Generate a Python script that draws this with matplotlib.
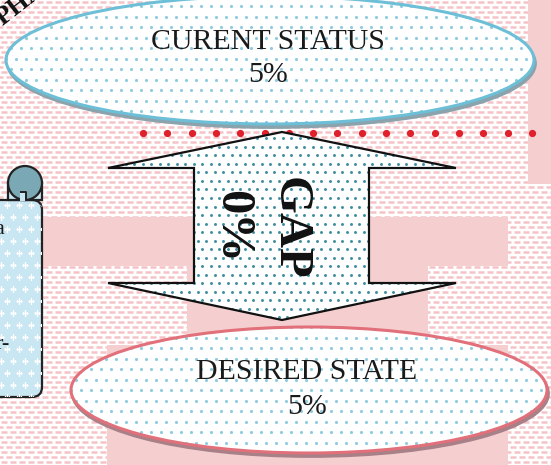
"""Gap diagram: current status vs desired state."""

import matplotlib

matplotlib.use("Agg")
import matplotlib.pyplot as plt
import numpy as np
from matplotlib.patches import Circle, Ellipse, FancyBboxPatch, PathPatch, Rectangle
from matplotlib.path import Path

# values shown in the diagram
state_labels = ["CURENT STATUS", "DESIRED STATE"]
state_values = [5, 5]
gap_label = "GAP"
gap_value = 0
corner_label = "PHA"
scroll_fragments = ["a", "r-"]

W, H = 551, 465
SERIF = "Liberation Serif"

fig = plt.figure(figsize=(W / 100, H / 100), dpi=100)
ax = fig.add_axes([0, 0, 1, 1])
ax.set_xlim(0, W)
ax.set_ylim(H, 0)
ax.axis("off")


def dot_grid(x0, x1, y0, y1, dx, dy):
    xs, ys = [], []
    for i, y in enumerate(np.arange(y0, y1, dy)):
        off = dx / 2 if i % 2 else 0
        row = np.arange(x0 + off, x1, dx)
        xs.append(row)
        ys.append(np.full(len(row), y))
    return np.concatenate(xs), np.concatenate(ys)


# background: white with pale pink dashes
bx, by = dot_grid(-5, W + 5, 2, H + 5, 9, 5)
ax.plot(bx, by, ls="none", marker="_", ms=5, mew=1.8, color="#f5c3c7", zorder=0)

# solid pink blocks
pink = "#f5cfd0"
for x, y, w, h in [(528, 0, 30, 184), (43, 217, 465, 49), (187, 217, 241, 130), (107, 345, 401, 130)]:
    ax.add_patch(Rectangle((x, y), w, h, color=pink, lw=0, zorder=1))

# red dotted line
dot_x = np.arange(143, 550, 24.3)
ax.plot(dot_x, np.full(len(dot_x), 133), ls="none", marker="o", ms=4.2, color="#e0202a", zorder=2)


def state_ellipse(cx, cy, w, h, edge, shadow):
    ax.add_patch(Ellipse((cx + 1.5, cy + 3.5), w, h, facecolor=shadow, edgecolor=shadow, lw=2, zorder=3))
    el = Ellipse((cx, cy), w, h, facecolor="white", edgecolor="none", zorder=3.1)
    ax.add_patch(el)
    ex, ey = dot_grid(cx - w / 2, cx + w / 2, cy - h / 2, cy + h / 2, 10, 10.5)
    pts = ax.scatter(ex, ey, s=5, color="#8ecbe0", lw=0, zorder=3.2)
    pts.set_clip_path(el)
    ax.add_patch(Ellipse((cx, cy), w, h, facecolor="none", edgecolor=edge, lw=2.2, zorder=3.3))


# current status ellipse
state_ellipse(270, 60, 528, 128, "#6cbfd6", "#8aa3ad")
ax.text(268, 42, state_labels[0], family=SERIF, fontsize=21.5, color="#1a1a1a",
        ha="center", va="center", zorder=6)
ax.text(268, 75, f"{state_values[0]}%", family=SERIF, fontsize=21.5, color="#1a1a1a",
        ha="center", va="center", zorder=6)

# desired state ellipse
state_ellipse(309, 390, 476, 126, "#e2707a", "#a88088")
ax.text(307, 372, state_labels[1], family=SERIF, fontsize=21.5, color="#1a1a1a",
        ha="center", va="center", zorder=6)
ax.text(307, 407, f"{state_values[1]}%", family=SERIF, fontsize=21.5, color="#1a1a1a",
        ha="center", va="center", zorder=6)

# double headed gap arrow
arrow_xy = [(282, 132), (456, 168), (369, 168), (369, 283), (456, 283), (282, 320),
            (108, 283), (194, 283), (194, 168), (108, 168), (282, 132)]
arrow = PathPatch(Path(arrow_xy, closed=True), facecolor="white", edgecolor="none", zorder=4)
ax.add_patch(arrow)
axs, ays = dot_grid(100, 460, 130, 325, 8.5, 8.5)
apts = ax.scatter(axs, ays, s=4.5, color="#3f8fa0", lw=0, zorder=4.1)
apts.set_clip_path(arrow)
ax.add_patch(PathPatch(Path(arrow_xy, closed=True), facecolor="none", edgecolor="#111111",
                       lw=1.6, joinstyle="miter", zorder=4.2))
ax.text(290, 228, gap_label, family=SERIF, fontsize=35, fontweight="bold", color="#111111",
        rotation=-90, ha="center", va="center", zorder=6)
ax.text(232, 226, f"{gap_value}%", family=SERIF, fontsize=35, fontweight="bold", color="#111111",
        rotation=-90, ha="center", va="center", zorder=6)

# scroll on the left edge
scroll_fill = "#c9e6f3"
body = FancyBboxPatch((-20, 200), 62, 197, boxstyle="round,pad=0,rounding_size=10",
                      facecolor=scroll_fill, edgecolor="#222222", lw=1.6, zorder=5)
ax.add_patch(body)
sx, sy = dot_grid(-5, 45, 205, 400, 12, 12)
spts = ax.plot(sx, sy, ls="none", marker="+", ms=4, mew=1, color="white", zorder=5.1)[0]
spts.set_clip_path(body)
ax.add_patch(Rectangle((8, 183), 34, 17, facecolor=scroll_fill, edgecolor="#222222", lw=1.6, zorder=5.2))
ax.add_patch(Circle((25, 183), 17, facecolor="#7aa8b5", edgecolor="#222222", lw=1.6, zorder=5.3))
ax.add_patch(Rectangle((20, 193), 5.5, 8, facecolor=scroll_fill, edgecolor="none", zorder=5.4))
ax.plot([25.5, 25.5, 21], [200, 192, 192], color="#222222", lw=1.4, zorder=5.5)
ax.text(4, 234, scroll_fragments[0], family=SERIF, fontsize=16, color="#1a1a1a",
        ha="right", va="baseline", zorder=6)
ax.text(10, 349, scroll_fragments[1], family=SERIF, fontsize=16, color="#1a1a1a",
        ha="right", va="baseline", zorder=6)

# corner label running off the top edge
ax.text(3, 26, corner_label, family=SERIF, fontsize=19, fontweight="bold", color="#111111",
        rotation=38, rotation_mode="anchor", ha="left", va="baseline", zorder=6)

fig.savefig("out.png", dpi=100)
plt.close(fig)
